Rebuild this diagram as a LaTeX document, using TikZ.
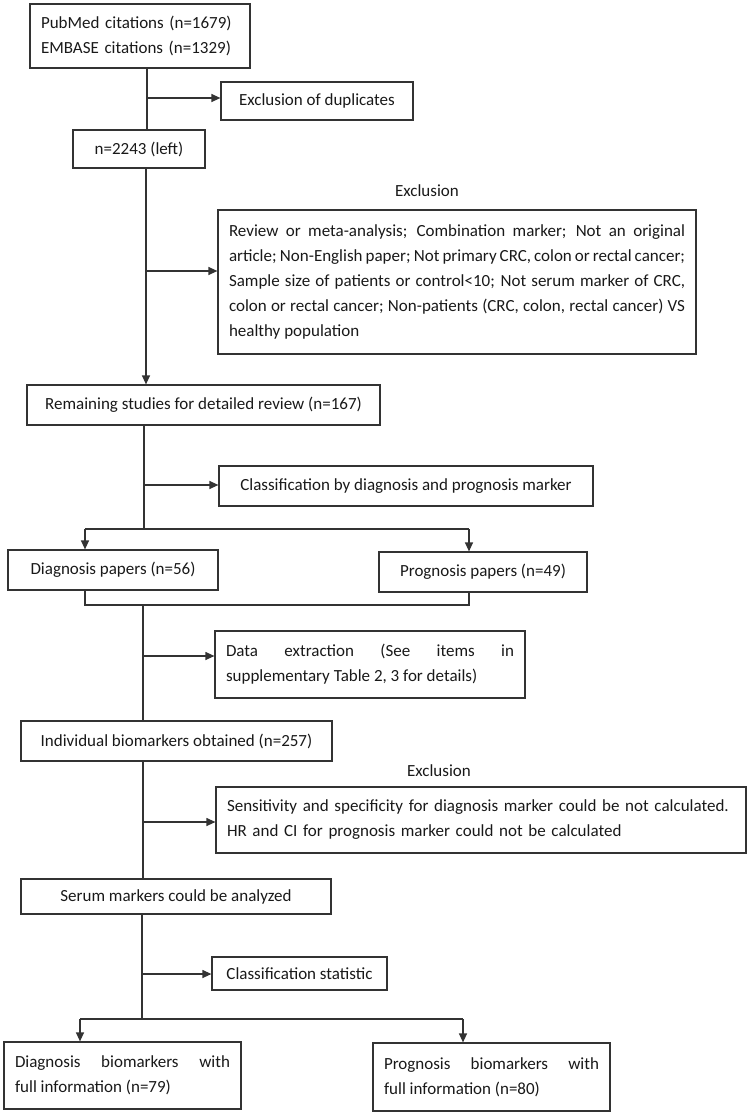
\documentclass[tikz,border=0pt]{standalone}
\usepackage{fontspec}
\setmainfont{Carlito}
\usepackage{tikz}
\usetikzlibrary{arrows.meta}

\tikzset{
  box/.style={draw=black!80, line width=1.2pt, minimum height=40pt, inner xsep=11pt, inner ysep=0pt,
    font=\fontsize{17}{25}\selectfont, text=black!90},
  lbl/.style={font=\fontsize{17}{25}\selectfont, text=black!90},
  link/.style={draw=black!80, line width=1.2pt}
}

\begin{document}
\begin{tikzpicture}[x=1pt,y=-1pt,>={Triangle[length=9pt,width=8pt]}]
\useasboundingbox (0,0) rectangle (752,1116);

% search and first exclusions
\node[box, minimum width=220pt, minimum height=64pt, text width=198pt, align=left] (cite) at (140,36)
  {PubMed citations (n=1679)\\EMBASE citations (n=1329)};
\node[box, minimum width=192pt, minimum height=38pt] (dup) at (317,101) {Exclusion of duplicates};
\node[box, minimum width=132pt, minimum height=38pt] (left) at (139,149) {n=2243 (left)};
\node[lbl] (exlab1) at (427,191) {Exclusion};
\node[box, minimum width=478pt, minimum height=144pt, text width=456pt, align=justify] (excl1) at (457,282)
  {Review or meta-analysis; Combination marker; Not an original\linebreak
   article; Non-English paper; Not primary CRC, colon or rectal cancer;\linebreak
   Sample size of patients or control<10; Not serum marker of CRC,\linebreak
   colon or rectal cancer; Non-patients (CRC, colon, rectal cancer) VS\linebreak
   healthy population};
\node[box, minimum width=353pt] (remain) at (203.5,405) {Remaining studies for detailed review (n=167)};

% classification into two groups
\node[box, minimum width=374pt] (classif) at (406,486) {Classification by diagnosis and prognosis marker};
\node[box, minimum width=210pt] (diag) at (113,570) {Diagnosis papers (n=56)};
\node[box, minimum width=208pt] (prog) at (483,572) {Prognosis papers (n=49)};
\node[box, minimum width=310pt, minimum height=67pt, text width=288pt, align=justify] (extract) at (370,664.5)
  {Data extraction (See items in\linebreak supplementary Table 2, 3 for details)};
\node[box, minimum width=311pt] (indiv) at (176.5,741) {Individual biomarkers obtained (n=257)};
\node[lbl] (exlab2) at (439,771) {Exclusion};
\node[box, minimum width=530pt, minimum height=66pt, text width=508pt, align=left] (excl2) at (481,820)
  {Sensitivity and specificity for diagnosis marker could be not calculated.\\
   HR and CI for prognosis marker could not be calculated};
\node[box, minimum width=310pt, minimum height=35pt] (serum) at (176,896.5) {Serum markers could be analyzed};
\node[box, minimum width=175pt, minimum height=33pt] (stat) at (299.5,973.5) {Classification statistic};
\node[box, minimum width=237pt, minimum height=67pt, text width=215pt, align=justify] (diagbio) at (122.5,1075.5)
  {Diagnosis biomarkers with\linebreak full information (n=79)};
\node[box, minimum width=237pt, minimum height=68pt, text width=215pt, align=justify] (progbio) at (491.5,1077)
  {Prognosis biomarkers with\linebreak full information (n=80)};

% junctions on the main line
\coordinate (j1) at (147,98);
\coordinate (j2) at (146,271);
\coordinate (j3) at (144,485);
\coordinate (s1l) at (85,529);
\coordinate (s1r) at (469,529);
\coordinate (m1l) at (85,605);
\coordinate (m1r) at (469,605);
\coordinate (j4) at (143,656);
\coordinate (j5) at (143,822);
\coordinate (j6) at (142,974);
\coordinate (s2l) at (80,1019);
\coordinate (s2r) at (463,1019);

\draw[link] (j1 |- cite.south) -- (j1 |- left.north);
\draw[link,->] (j1) -- (j1 -| dup.west);
\draw[link,->] (j2 |- left.south) -- (j2 |- remain.north);
\draw[link,->] (j2) -- (j2 -| excl1.west);
\draw[link] (j3 |- remain.south) -- (j3 |- s1l);
\draw[link,->] (j3) -- (j3 -| classif.west);
\draw[link] (s1l) -- (s1r);
\draw[link,->] (s1l) -- (s1l |- diag.north);
\draw[link,->] (s1r) -- (s1r |- prog.north);
\draw[link] (m1l |- diag.south) -- (m1l) -- (m1r) -- (m1r |- prog.south);
\draw[link] (j4 |- m1l) -- (j4 |- indiv.north);
\draw[link,->] (j4) -- (j4 -| extract.west);
\draw[link] (j5 |- indiv.south) -- (j5 |- serum.north);
\draw[link,->] (j5) -- (j5 -| excl2.west);
\draw[link] (j6 |- serum.south) -- (j6 |- s2l);
\draw[link,->] (j6) -- (j6 -| stat.west);
\draw[link] (s2l) -- (s2r);
\draw[link,->] (s2l) -- (s2l |- diagbio.north);
\draw[link,->] (s2r) -- (s2r |- progbio.north);
\end{tikzpicture}
\end{document}
